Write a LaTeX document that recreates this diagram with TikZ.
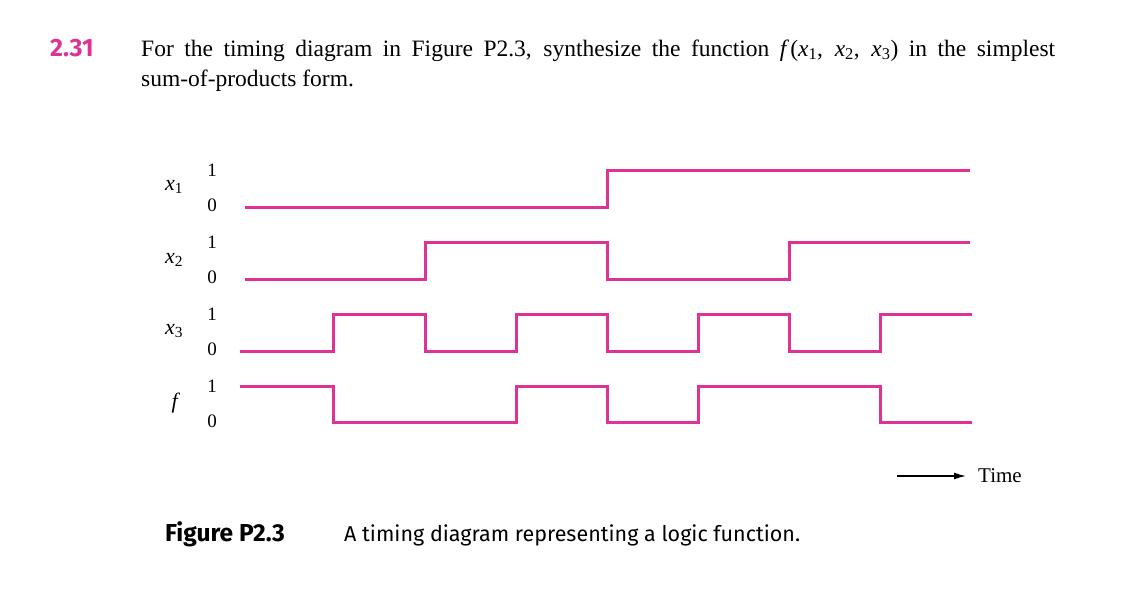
\documentclass[tikz,border=0pt]{standalone}
\usepackage{fontspec}
\setmainfont{Liberation Serif}
\newfontfamily\capfont{Fira Sans}
\usetikzlibrary{arrows.meta}
\definecolor{pk}{RGB}{221,51,150}
\newcommand{\vx}[1]{\textit{x}\textsubscript{#1}}
\begin{document}
\begin{tikzpicture}[x=1pt,y=-1pt,
  wave/.style={draw=pk,line width=3pt,line join=miter},
  lab/.style={font=\fontsize{22}{24}\selectfont,inner sep=0},
  bit/.style={font=\fontsize{19}{22}\selectfont,inner sep=0}]
\useasboundingbox (0,0) rectangle (1140,590);
\node[anchor=base west,inner sep=0,text=pk,font=\capfont\bfseries\fontsize{25}{28}\selectfont] (num) at (50,56) {2.31};
\node[anchor=base west,inner sep=0,font=\fontsize{23.5}{30}\selectfont] (l1) at (141,56) {\makebox[914pt][s]{For the timing diagram in Figure P2.3, synthesize the function \textit{f\,}(\vx{1}, \vx{2}, \vx{3}) in the simplest}};
\node[anchor=base west,inner sep=0,font=\fontsize{23.5}{30}\selectfont] (l2) at (141,86) {sum-of-products form.};
% labels
\node[lab] (n1) at (174,187) {\vx{1}};
\node[lab] (n2) at (174,260) {\vx{2}};
\node[lab] (n3) at (174,331) {\vx{3}};
\node[lab] (nf) at (176,403) {\textit{f}};
\foreach \y/\n in {170/a,242/b,314/c,386/d}{
  \node[bit] (one\n) at (212,\y) {1};
  \node[bit] (zero\n) at (212,\y+35) {0};}
% waves
\draw[wave] (245,207) -- (607,207) -- (607,170) -- (970,170);
\draw[wave] (245,279) -- (425,279) -- (425,242) -- (607,242) -- (607,279) -- (789,279) -- (789,242) -- (970,242);
\draw[wave] (240,351) -- (333,351) -- (333,314) -- (425,314) -- (425,351) -- (516,351) -- (516,314) -- (607,314) -- (607,351) -- (698,351) -- (698,314) -- (789,314) -- (789,351) -- (880,351) -- (880,314) -- (972,314);
\draw[wave] (240,386) -- (333,386) -- (333,422) -- (516,422) -- (516,386) -- (607,386) -- (607,422) -- (698,422) -- (698,386) -- (880,386) -- (880,422) -- (972,422);
% time
\coordinate (ts) at (897,476);
\node[lab,anchor=west,font=\fontsize{21}{24}\selectfont] (time) at (978,476) {Time};
\draw[line width=1.3pt,-{Latex[length=12pt,width=7pt]},shorten >=12pt] (ts) -- (time.west);
% caption
\node[anchor=base west,inner sep=0,font=\capfont\bfseries\fontsize{24.5}{28}\selectfont] (fig) at (165,541) {Figure P2.3};
\node[anchor=base west,inner sep=0,font=\capfont\fontsize{21.5}{26}\selectfont] (cap) at (344,541) {A timing diagram representing a logic function.};
\end{tikzpicture}
\end{document}
